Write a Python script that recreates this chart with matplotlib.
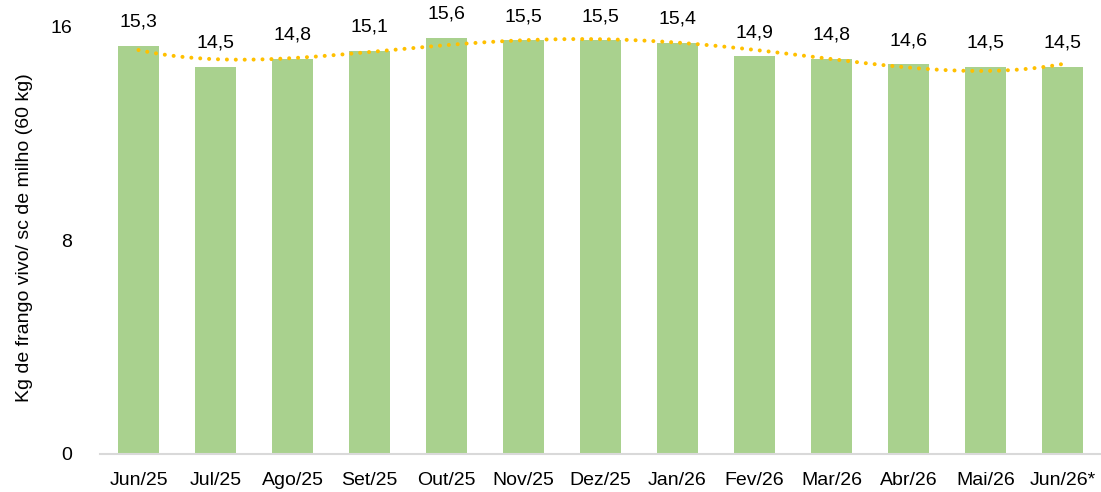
import numpy as np
import matplotlib
matplotlib.use("Agg")
import matplotlib.pyplot as plt

categories = ["Jun/25", "Jul/25", "Ago/25", "Set/25", "Out/25", "Nov/25", "Dez/25",
              "Jan/26", "Fev/26", "Mar/26", "Abr/26", "Mai/26", "Jun/26*"]
values = [15.3, 14.5, 14.8, 15.1, 15.6, 15.5, 15.5, 15.4, 14.9, 14.8, 14.6, 14.5, 14.5]
yticks = [0, 8, 16]
ylabel = "Kg de frango vivo/ sc de milho (60 kg)"

plt.rcParams['font.family'] = ['Liberation Sans', 'DejaVu Sans']

fig = plt.figure(figsize=(11.01, 4.92), dpi=100)
ax = fig.add_axes([100/1101, 38/492, 1 - 100/1101, (454-27)/492])

x = np.arange(len(categories))
ax.bar(x, values, width=0.52, color="#a9d18e", zorder=2)

# polynomial trendline (Excel-like)
coef = np.polyfit(x, values, 4)
xs = np.linspace(0, len(categories) - 1, 400)
ax.plot(xs, np.polyval(coef, xs), linestyle=(0, (0.01, 2.2)), color="#ffc000",
        linewidth=2.9, dash_capstyle="round", zorder=3)

for xi, v in zip(x, values):
    ax.annotate(f"{v:.1f}".replace(".", ","), (xi, v), xytext=(0, 11),
                textcoords="offset points", ha="center", va="bottom", fontsize=14,
                color="#000000")

ax.set_xlim(-0.5, len(categories) - 0.5)
ax.set_ylim(0, 16)
ax.set_yticks(yticks)
ax.set_yticklabels([str(t) for t in yticks], fontsize=14)
ax.set_xticks(x)
ax.set_xticklabels(categories, fontsize=14)
ax.tick_params(axis="both", length=0)
ax.tick_params(axis="x", pad=13)
ax.tick_params(axis="y", pad=20)
for s in ["top", "right", "left"]:
    ax.spines[s].set_visible(False)
ax.spines["bottom"].set_color("#d9d9d9")
ax.spines["bottom"].set_linewidth(1.5)
ax.set_ylabel(ylabel, fontsize=14)
ax.yaxis.set_label_coords(-67/1001, 0.507)

fig.savefig("out.png", dpi=100)
